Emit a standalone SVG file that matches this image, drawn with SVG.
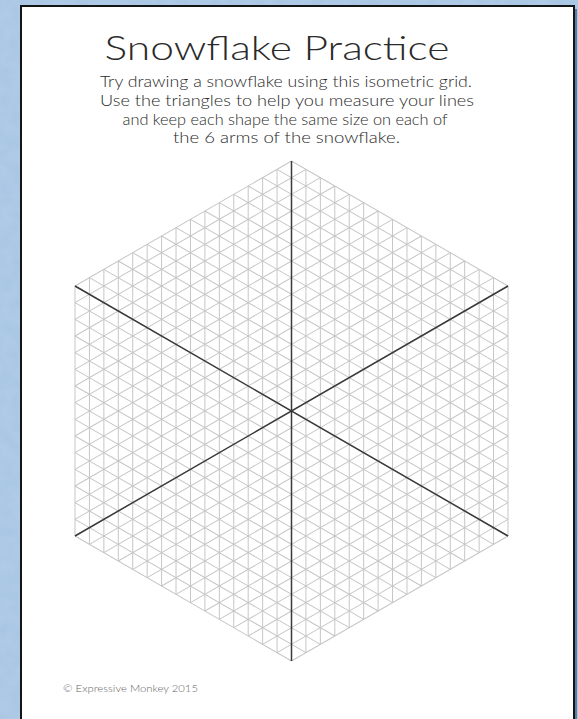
<svg xmlns="http://www.w3.org/2000/svg" xmlns:xlink="http://www.w3.org/1999/xlink" width="578" height="719" viewBox="0 0 578 719">
  <defs>
    <style>
      .txt { font-family: Lato, "Liberation Sans", "DejaVu Sans", sans-serif; fill: #2a2a2a; text-anchor: middle; }
      .title { font-size: 34px; font-weight: 300; }
      .sub { font-size: 15px; font-weight: 300; }
      .copy { font-size: 9px; fill: #666; text-anchor: start; font-weight: 300; }
      .grid { fill: none; stroke: #c6c6c6; stroke-width: 1; }
      .arm { fill: none; stroke: #3a3a3a; stroke-width: 1.5; }
    </style>
    <filter id="tex" x="0" y="0" width="1" height="1">
      <feTurbulence type="fractalNoise" baseFrequency="0.08" numOctaves="2" seed="3" result="n"/>
      <feColorMatrix in="n" type="matrix" values="0 0 0 0 0.55  0 0 0 0 0.72  0 0 0 0 0.88  0 0 0 0.35 0" result="c"/>
      <feComposite in="c" in2="SourceGraphic" operator="over"/>
    </filter>
  </defs>

  <!-- background -->
  <rect x="0" y="0" width="578" height="719" fill="#a6c4e2" filter="url(#tex)"/>

  <!-- page -->
  <g id="page">
    <rect x="24" y="9" width="553" height="720" fill="#5d7d9c"/>
    <rect x="21" y="6" width="553" height="720" fill="#ffffff" stroke="#141414" stroke-width="2"/>
  </g>

  <!-- heading -->
  <g id="heading">
    <text class="txt title" x="277" y="60" textLength="345" lengthAdjust="spacingAndGlyphs">Snowflake Practice</text>
    <text class="txt sub" x="286" y="87" textLength="372" lengthAdjust="spacingAndGlyphs">Try drawing a snowflake using this isometric grid.</text>
    <text class="txt sub" x="287" y="106" textLength="374" lengthAdjust="spacingAndGlyphs">Use the triangles to help you measure your lines</text>
    <text class="txt sub" x="285" y="125" textLength="325" lengthAdjust="spacingAndGlyphs">and keep each shape the same size on each of</text>
    <text class="txt sub" x="286.5" y="143" textLength="227" lengthAdjust="spacingAndGlyphs">the 6 arms of the snowflake.</text>
  </g>

  <!-- isometric grid hexagon -->
  <g id="grid">
    <path id="vlines" class="grid" d="
      M74.99 286V536 M89.43 277.67V544.33 M103.86 269.33V552.67 M118.3 261V561 M132.73 252.67V569.33
      M147.16 244.33V577.67 M161.6 236V586 M176.03 227.67V594.33 M190.46 219.33V602.67 M204.9 211V611
      M219.33 202.67V619.33 M233.77 194.33V627.67 M248.2 186V636 M262.63 177.67V644.33 M277.07 169.33V652.67
      M291.5 161V661
      M305.93 169.33V652.67 M320.37 177.67V644.33 M334.8 186V636 M349.24 194.33V627.67 M363.67 202.67V619.33
      M378.1 211V611 M392.54 219.33V602.67 M406.97 227.67V594.33 M421.4 236V586 M435.84 244.33V577.67
      M450.27 252.67V569.33 M464.7 261V561 M479.14 269.33V552.67 M493.57 277.67V544.33 M508.01 286V536"/>
    <use xlink:href="#vlines" href="#vlines" transform="rotate(60 291.5 411)"/>
    <use xlink:href="#vlines" href="#vlines" transform="rotate(120 291.5 411)"/>
  </g>

  <!-- six arms -->
  <g id="arms">
    <path id="arm" class="arm" d="M291.5 161V661"/>
    <use xlink:href="#arm" href="#arm" transform="rotate(60 291.5 411)"/>
    <use xlink:href="#arm" href="#arm" transform="rotate(120 291.5 411)"/>
  </g>

  <!-- footer -->
  <g id="footer">
    <text class="txt copy" x="63" y="692" textLength="135" lengthAdjust="spacingAndGlyphs">© Expressive Monkey 2015</text>
  </g>
</svg>
